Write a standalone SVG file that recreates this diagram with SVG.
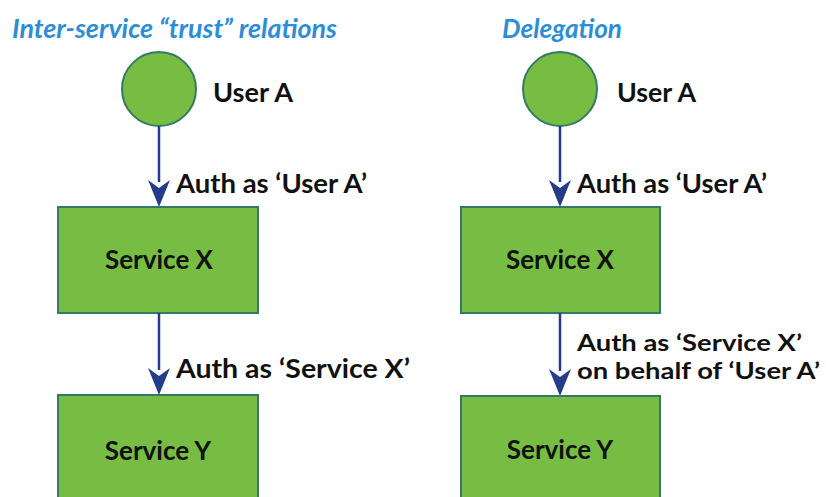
<svg xmlns="http://www.w3.org/2000/svg" width="826" height="497" viewBox="0 0 826 497">
<defs>
<style>
.node{fill:#77BD43;stroke:#367A65;stroke-width:2}
.lbl{font-family:Lato,"Open Sans",sans-serif;font-weight:bold;fill:#111;font-size:26.5px}
.sm{font-size:23.2px}
.nl{font-family:Lato,"Open Sans",sans-serif;font-weight:bold;fill:#111;font-size:26px;text-anchor:middle}
.ttl{font-family:Lato,"Open Sans",sans-serif;font-weight:bold;font-style:italic;fill:#2D8DD5;font-size:26px}
.edge{stroke:#243C8A;stroke-width:2.5;fill:none}
.head{fill:#243C8A}
</style>
</defs>
<rect width="826" height="497" fill="#fff"/>
<text class="ttl" x="12" y="38" textLength="325" lengthAdjust="spacingAndGlyphs">Inter-service “trust” relations</text>
<text class="ttl" x="502" y="38" textLength="120" lengthAdjust="spacingAndGlyphs">Delegation</text>
<g id="left-userA"><circle class="node" cx="159" cy="89" r="37"/><text class="lbl" x="213" y="102" textLength="80" lengthAdjust="spacingAndGlyphs">User A</text></g>
<g id="left-serviceX"><rect class="node" x="58" y="207" width="200" height="106"/><text class="nl" x="159" y="269">Service X</text></g>
<g id="left-serviceY"><rect class="node" x="58" y="395" width="200" height="110"/><text class="nl" x="158" y="460">Service Y</text></g>
<g id="right-userA"><circle class="node" cx="560" cy="89" r="37"/><text class="lbl" x="617" y="102" textLength="79" lengthAdjust="spacingAndGlyphs">User A</text></g>
<g id="right-serviceX"><rect class="node" x="461" y="207" width="199" height="106"/><text class="nl" x="560" y="269">Service X</text></g>
<g id="right-serviceY"><rect class="node" x="461" y="396" width="199" height="110"/><text class="nl" x="560" y="459">Service Y</text></g>
<g id="connectors">
<line class="edge" x1="159" y1="126" x2="159" y2="182"/>
<path class="head" d="M148,180 L159,188 L170,180 L159,207 Z"/>
<line class="edge" x1="159" y1="313" x2="159" y2="370"/>
<path class="head" d="M148,368 L159,376 L170,368 L159,395 Z"/>
<line class="edge" x1="560" y1="126" x2="560" y2="182"/>
<path class="head" d="M549,180 L560,188 L571,180 L560,207 Z"/>
<line class="edge" x1="560" y1="313" x2="560" y2="371"/>
<path class="head" d="M549,369 L560,377 L571,369 L560,396 Z"/>
<text class="lbl" x="176" y="193" textLength="191" lengthAdjust="spacingAndGlyphs">Auth as ‘User A’</text>
<text class="lbl" x="176" y="378" textLength="234" lengthAdjust="spacingAndGlyphs">Auth as ‘Service X’</text>
<text class="lbl" x="577" y="193" textLength="190" lengthAdjust="spacingAndGlyphs">Auth as ‘User A’</text>
<text class="lbl sm" x="577" y="351" textLength="225" lengthAdjust="spacingAndGlyphs">Auth as ‘Service X’</text>
<text class="lbl sm" x="577" y="379" textLength="243" lengthAdjust="spacingAndGlyphs">on behalf of ‘User A’</text>
</g>
</svg>
